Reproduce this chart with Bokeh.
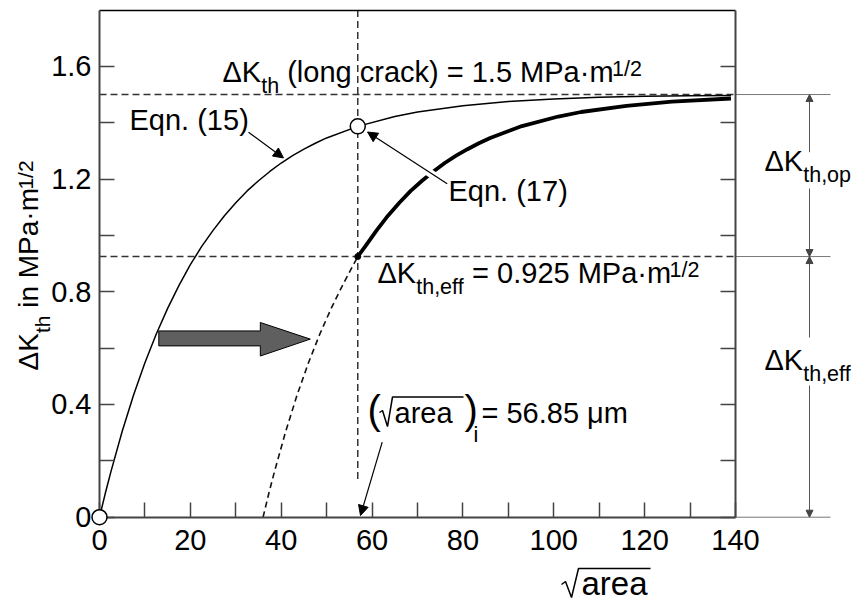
import math
from bokeh.plotting import figure
from bokeh.models import (Range1d, LinearAxis, FixedTicker, CustomJSTickFormatter,
                          Label, Arrow, NormalHead)
from bokeh.embed import file_html
from bokeh.resources import INLINE

# ---------------- data ----------------
dk_long = 1.5          # MPa*m^1/2
dk_eff = 0.925         # MPa*m^1/2
area_i = 56.85         # micrometre

eqn15_x = [0, 1.25, 2.5, 5, 7.5, 10, 12.5, 15, 17.5, 20, 22.5, 25, 27.5, 30, 32.5, 35,
           37.5, 40, 42.5, 45, 47.5, 50, 56.85, 65, 70, 80, 90, 100, 110, 120, 130, 139]
eqn15_y = [0, 0.083, 0.161, 0.305, 0.434, 0.548, 0.650, 0.741, 0.823, 0.896, 0.961, 1.018,
           1.070, 1.116, 1.158, 1.194, 1.227, 1.257, 1.283, 1.306, 1.327, 1.346, 1.387,
           1.422, 1.438, 1.460, 1.475, 1.484, 1.490, 1.494, 1.496, 1.497]

eqn17_dash_x = [36, 37.25, 38.5, 41, 43.5, 46, 48.5, 51, 53.5, 56.85]
eqn17_dash_y = [0, 0.083, 0.161, 0.305, 0.434, 0.548, 0.650, 0.741, 0.823, 0.925]

eqn17_x = [56.85, 58.5, 61, 63.5, 66, 68.5, 71, 73.5, 76, 78.5, 81, 83.5, 86, 93, 101,
           106, 116, 126, 139]
eqn17_y = [0.925, 0.961, 1.018, 1.070, 1.116, 1.158, 1.194, 1.227, 1.257, 1.283, 1.306,
           1.327, 1.346, 1.388, 1.422, 1.438, 1.460, 1.475, 1.486]

x_major = [0, 20, 40, 60, 80, 100, 120, 140]
x_minor = [10, 30, 50, 70, 90, 110, 130]
y_major = [0, 0.4, 0.8, 1.2, 1.6]
y_minor = [0.2, 0.6, 1.0, 1.4]
x_lo, x_hi = 0, 140
y_lo, y_hi = 0, 1.8

# big grey arrow outline (data units)
big_arrow_x = [13.05, 35.4, 35.4, 46.4, 35.4, 35.4, 13.05]
big_arrow_y = [0.661, 0.661, 0.691, 0.632, 0.572, 0.608, 0.608]

# ---------------- geometry / style ----------------
FONT = "Liberation Sans"
FS = 29
FS_S = 21.5
CW, CH = 852, 603
REF_L, REF_R, REF_T, REF_B = 99, 735, 9.5, 516.7   # pixels of the data box
PXX = (REF_R - REF_L) / (x_hi - x_lo)
PXY = (REF_B - REF_T) / (y_hi - y_lo)
MID = 0.3465   # distance baseline -> middle of the em box, in em


def dx(px):
    return x_lo + (px - REF_L) / PXX


def dy(py):
    return y_lo + (REF_B - py) / PXY


W = {' ': .278, '(': .333, ')': .333, ',': .278, '.': .278, '/': .278, '=': .584,
     'A': .667, 'E': .667, 'K': .667, 'M': .833, 'P': .667, 'a': .556, 'c': .5,
     'e': .556, 'f': .278, 'g': .556, 'h': .556, 'i': .222, 'k': .5, 'l': .222,
     'm': .833, 'n': .556, 'o': .556, 'p': .556, 'q': .556, 'r': .333, 't': .278,
     'μ': .576, 'Δ': .668, '·': .278}


def tw(s, size):
    return sum(W.get(c, .556) for c in s) * size


p = figure(width=CW, height=CH, output_backend="svg", toolbar_location=None,
           x_axis_type=None, y_axis_type=None,
           x_range=Range1d(dx(0), dx(CW)), y_range=Range1d(dy(CH), dy(0)),
           min_border_left=0, min_border_right=0, min_border_top=0, min_border_bottom=0)
p.grid.visible = False
p.outline_line_color = None
p.background_fill_color = "white"
p.border_fill_color = "white"


def make_axis(loc, bounds, ticks, minor, labels=True, standoff=8, color="#444444", width=2):
    ax = LinearAxis(fixed_location=loc, bounds=bounds,
                    ticker=FixedTicker(ticks=ticks, minor_ticks=minor))
    ax.major_tick_in = 15
    ax.major_tick_out = 0
    ax.minor_tick_in = 15
    ax.minor_tick_out = 0
    ax.axis_line_color = color
    ax.axis_line_width = width
    ax.major_tick_line_color = "#444444"
    ax.minor_tick_line_color = "#444444"
    ax.major_tick_line_width = 1.5
    ax.minor_tick_line_width = 1.5
    ax.major_label_text_font = FONT
    ax.major_label_text_font_size = f"{FS}px"
    ax.major_label_text_color = "black" if labels else None
    ax.major_label_standoff = standoff
    return ax


xaxis = make_axis(y_lo, (x_lo, x_hi), x_major, x_minor, standoff=13)
p.add_layout(xaxis, "below")
yaxis = make_axis(x_lo, (y_lo, y_hi), y_major, y_minor, standoff=8)
yaxis.formatter = CustomJSTickFormatter(code="return tick == 0 ? '0' : tick.toFixed(1);")
p.add_layout(yaxis, "left")
p.add_layout(make_axis(x_hi, (y_lo, y_hi), y_major, y_minor, labels=False), "right")
p.add_layout(make_axis(y_hi, (x_lo, x_hi), [], [], labels=False, color="black", width=1.5),
             "above")

# dashed reference lines
DASH = dict(line_color="#333333", line_width=1.5, line_dash="7 4")
p.line([x_lo, x_hi], [dk_long, dk_long], **DASH)
p.line([x_lo, x_hi], [dk_eff, dk_eff], **DASH)
p.line([area_i, area_i], [y_hi, 0.13], **DASH)

# curves
p.line(eqn15_x, eqn15_y, line_color="black", line_width=1.5)
p.line(eqn17_dash_x, eqn17_dash_y, line_color="#111111", line_width=1.6, line_dash="6 4")
p.line(eqn17_x, eqn17_y, line_color="black", line_width=3.8)

# big grey arrow
p.patch(big_arrow_x, big_arrow_y, fill_color="#5f5f5f", line_color="black", line_width=1)

# right-hand extension lines
for yy in (dk_long, dk_eff, y_lo):
    p.line([x_hi, dx(830)], [yy, yy], line_color="#777777", line_width=1)


def seg(x0, y0, x1, y1, color="black", width=1.2, head=None):
    p.add_layout(Arrow(x_start=x0, y_start=y0, x_end=x1, y_end=y1, line_color=color,
                       line_width=width, end=head, start=None))


def head(size=10, color="black"):
    return NormalHead(size=size, fill_color=color, line_color=color, line_width=1)


# white gap in the thick curve where the Eqn.(17) leader crosses it
seg(75.1, 1.196, 70.7, 1.243, color="white", width=8)
# leaders
seg(dx(248), dy(131.7), 40.5, 1.275, head=head(10))
seg(dx(446.7), dy(183.3), dx(367), dy(131.5), head=head(10))
seg(dx(381.7), dy(441.7), dx(360), dy(515), head=head(10))

# dimension arrows on the right
xa = dx(809)
gh = lambda: head(7, "#444444")
seg(xa, dy(151.7), xa, dk_long, color="#555555", width=1, head=gh())
seg(xa, dy(188), xa, dk_eff, color="#555555", width=1, head=gh())
seg(xa, dy(337), xa, dk_eff, color="#555555", width=1, head=gh())
seg(xa, dy(385), xa, y_lo, color="#555555", width=1, head=gh())

# markers (drawn last, over everything)
r1 = p.scatter([x_lo, area_i], [y_lo, eqn15_y[eqn15_x.index(area_i)]], marker="circle",
               size=15, fill_color="white", line_color="black", line_width=1.5)
r1.level = "overlay"
r2 = p.scatter([area_i], [dk_eff], marker="circle", size=6, fill_color="black",
               line_color="black")
r2.level = "overlay"


def lab(px, py, text, size=FS, angle=0.0, xo=0.0, yo=0.0):
    # (px, py) = start of the text on its baseline, in picture pixels
    if angle == 0:
        py = py - MID * size
    else:
        px = px - MID * size
    p.add_layout(Label(x=dx(px), y=dy(py), x_offset=xo, y_offset=yo, text=text,
                       angle=angle, text_font=FONT, text_font_size=f"{size}px",
                       text_align="left", text_baseline="middle", text_color="black"))


def rich(px, py, parts, angle=0.0, fs=FS, fss=FS_S):
    off = 0.0
    for text, kind in parts:
        size = fs if kind == 'n' else fss
        shift = {'n': 0, 'b': -11, 'p': 6}[kind]
        stripped = text.lstrip(' ')
        off += tw(text[:len(text) - len(stripped)], size)
        if angle == 0:
            xo, yo = off, shift
        else:
            xo, yo = -shift, off
        lab(px, py, stripped, size, angle, xo, yo)
        off += tw(stripped, size)


def radical(pts, width=1.5):
    p.line([dx(a) for a, _ in pts], [dy(b) for _, b in pts], line_color="black",
           line_width=width)


rich(222, 82, [("ΔK", 'n'), ("th", 'b'), (" (long crack) = 1.5 MPa·m", 'n'), ("1/2", 'p')])
rich(377, 283, [("ΔK", 'n'), ("th,eff", 'b'), (" = 0.925 MPa·m", 'n'), ("1/2", 'p')])
lab(129, 130, "Eqn. (15)")
lab(448, 201, "Eqn. (17)")

# (sqrt(area))_i = 56.85 um
lab(367, 423, "(", 40)
radical([(379, 412), (382, 410), (387, 426), (392, 396.5), (463, 396.5)])
lab(394, 423, "area")
lab(464, 423, ")", 40)
lab(473, 442, "i", FS_S)
lab(481, 423, "= 56.85 μm")

# right-side labels
rich(764, 171, [("ΔK", 'n'), ("th,op", 'b')])
rich(764, 370, [("ΔK", 'n'), ("th,eff", 'b')])

# y-axis title (rotated)
rich(38, 370, [("ΔK", 'n'), ("th", 'b'), (" in MPa·m", 'n'), ("1/2", 'p')],
     angle=math.pi / 2, fs=28, fss=21)

# x-axis title  sqrt(area)
radical([(561, 584), (565, 581), (571, 597), (578, 568), (650, 568)])
lab(581, 594, "area", 33)

open("out.html", "w").write(file_html(p, INLINE))
